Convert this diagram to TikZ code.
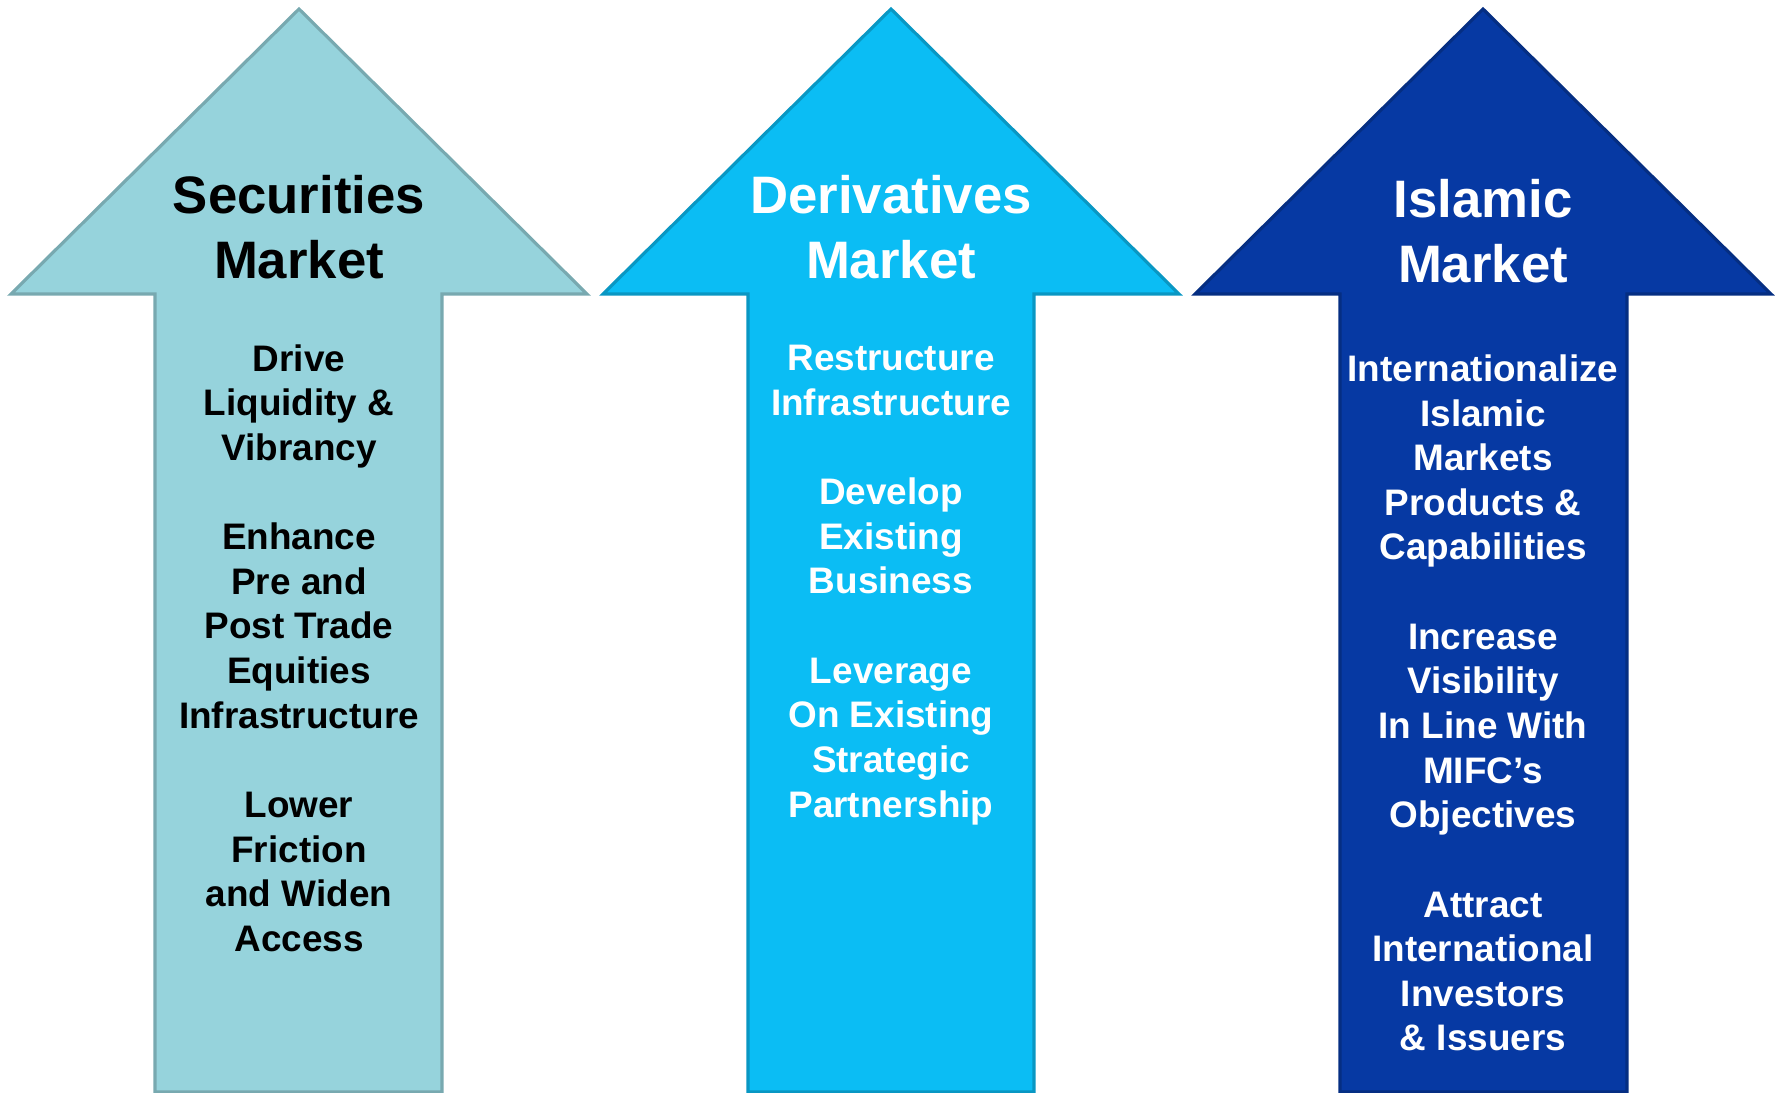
\documentclass[tikz,border=0pt]{standalone}
\usepackage{fontspec}
\setmainfont{Liberation Sans}
\usepackage{xcolor}
\definecolor{sec_teal}{HTML}{96D3DC}
\definecolor{der_cyan}{HTML}{0BBDF4}
\definecolor{isl_blue}{HTML}{0639A3}

\begin{document}
\begin{tikzpicture}[x=0.1mm, y=-0.1mm,
    arrowshape/.style={fill=#1, draw=#1!80!black, line width=0.9pt, line join=miter},
    titletext/.style={align=center, inner sep=0pt, font=\fontsize{15}{18.4}\selectfont\bfseries},
    bodytext/.style={align=center, inner sep=0pt, font=\fontsize{10.5}{12.7}\selectfont\bfseries}]
    \useasboundingbox (0,0) rectangle (1776,1092);

    % Securities arrow
    \draw[arrowshape=sec_teal] (299,9) -- (587,294) -- (442,294) -- (442,1092)
        -- (155,1092) -- (155,294) -- (11,294) -- cycle;
    % Derivatives arrow
    \draw[arrowshape=der_cyan] (891,9) -- (1179,294) -- (1034,294) -- (1034,1092)
        -- (748,1092) -- (748,294) -- (603,294) -- cycle;
    % Islamic arrow
    \draw[arrowshape=isl_blue] (1483,9) -- (1771,294) -- (1627,294) -- (1627,1092)
        -- (1340,1092) -- (1340,294) -- (1195,294) -- cycle;

    % Titles
    \node[titletext] (sectitle) at (299,227) {Securities\\Market};
    \node[titletext, white] (dertitle) at (891,227) {Derivatives\\Market};
    \node[titletext, white] (isltitle) at (1483,231) {Islamic\\Market};

    % Objectives in each arrow
    \node[bodytext] (secbody) at (299,648) {Drive\\Liquidity \&\\Vibrancy\\[12.7pt]
        Enhance\\Pre and\\Post Trade\\Equities\\Infrastructure\\[12.7pt]
        Lower\\Friction\\and Widen\\Access};
    \node[bodytext, white] (derbody) at (891,585) {Restructure\\Infrastructure\\[12.7pt]
        Develop\\Existing\\Business\\[12.7pt]
        Leverage\\On Existing\\Strategic\\Partnership};
    \node[bodytext, white] (islbody) at (1483,703) {Internationalize\\Islamic\\Markets\\Products \&\\Capabilities\\[12.7pt]
        Increase\\Visibility\\In Line With\\MIFC’s\\Objectives\\[12.7pt]
        Attract\\International\\Investors\\\& Issuers};
\end{tikzpicture}
\end{document}
